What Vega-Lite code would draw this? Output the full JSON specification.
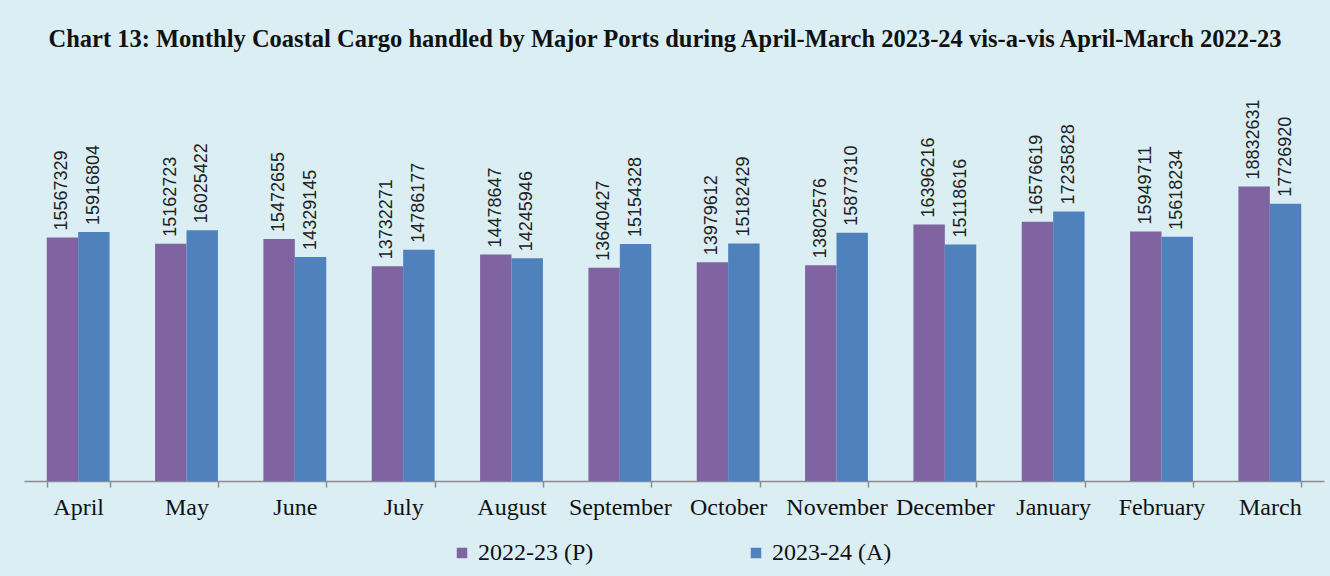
{
  "$schema": "https://vega.github.io/schema/vega-lite/v6.json",
  "width": 1300,
  "height": 391,
  "autosize": {"type": "none"},
  "padding": {"left": 24, "top": 90, "right": 6, "bottom": 95},
  "background": "#DAEEF3",
  "title": {
    "text": "Chart 13: Monthly Coastal Cargo handled by Major Ports during April-March 2023-24  vis-a-vis April-March 2022-23",
    "font": "Liberation Serif",
    "fontSize": 24.5,
    "fontWeight": "bold",
    "color": "#111111",
    "anchor": "middle",
    "frame": "group",
    "offset": 38,
    "dx": -9
  },
  "data": {
    "values": [
      {"month": "April", "series": "2022-23 (P)", "value": 15567329},
      {"month": "April", "series": "2023-24 (A)", "value": 15916804},
      {"month": "May", "series": "2022-23 (P)", "value": 15162723},
      {"month": "May", "series": "2023-24 (A)", "value": 16025422},
      {"month": "June", "series": "2022-23 (P)", "value": 15472655},
      {"month": "June", "series": "2023-24 (A)", "value": 14329145},
      {"month": "July", "series": "2022-23 (P)", "value": 13732271},
      {"month": "July", "series": "2023-24 (A)", "value": 14786177},
      {"month": "August", "series": "2022-23 (P)", "value": 14478647},
      {"month": "August", "series": "2023-24 (A)", "value": 14245946},
      {"month": "September", "series": "2022-23 (P)", "value": 13640427},
      {"month": "September", "series": "2023-24 (A)", "value": 15154328},
      {"month": "October", "series": "2022-23 (P)", "value": 13979612},
      {"month": "October", "series": "2023-24 (A)", "value": 15182429},
      {"month": "November", "series": "2022-23 (P)", "value": 13802576},
      {"month": "November", "series": "2023-24 (A)", "value": 15877310},
      {"month": "December", "series": "2022-23 (P)", "value": 16396216},
      {"month": "December", "series": "2023-24 (A)", "value": 15118616},
      {"month": "January", "series": "2022-23 (P)", "value": 16576619},
      {"month": "January", "series": "2023-24 (A)", "value": 17235828},
      {"month": "February", "series": "2022-23 (P)", "value": 15949711},
      {"month": "February", "series": "2023-24 (A)", "value": 15618234},
      {"month": "March", "series": "2022-23 (P)", "value": 18832631},
      {"month": "March", "series": "2023-24 (A)", "value": 17726920}
    ]
  },
  "encoding": {
    "x": {
      "field": "month",
      "type": "nominal",
      "sort": null,
      "title": null,
      "scale": {"paddingInner": 0.42, "paddingOuter": 0.21},
      "axis": {
        "labelAngle": 0,
        "labelFont": "Liberation Serif",
        "labelFontSize": 24,
        "labelColor": "#111111",
        "labelPadding": 8,
        "domainColor": "#8c8c8c",
        "domainWidth": 1.5,
        "tickColor": "#8c8c8c",
        "tickWidth": 1.5,
        "tickSize": 6,
        "tickBand": "extent",
        "labelOverlap": false,
        "grid": false
      }
    },
    "xOffset": {"field": "series", "type": "nominal", "scale": {"paddingInner": 0, "paddingOuter": 0}},
    "y": {
      "field": "value",
      "type": "quantitative",
      "scale": {"domain": [0, 25000000], "nice": false},
      "axis": null
    }
  },
  "layer": [
    {
      "mark": {"type": "bar"},
      "encoding": {
        "color": {
          "field": "series",
          "type": "nominal",
          "title": null,
          "scale": {"domain": ["2022-23 (P)", "2023-24 (A)"], "range": ["#8064A2", "#4F81BD"]},
          "legend": {
            "orient": "none",
            "direction": "horizontal",
            "columns": 2,
            "columnPadding": 150,
            "legendX": 426,
            "legendY": 451,
            "symbolType": "square",
            "symbolSize": 110,
            "symbolStrokeWidth": 0,
            "labelFont": "Liberation Serif",
            "labelFontSize": 24,
            "labelColor": "#111111",
            "labelOffset": 4,
            "padding": 0
          }
        }
      }
    },
    {
      "mark": {
        "type": "text",
        "angle": 270,
        "align": "left",
        "baseline": "middle",
        "dx": 7,
        "font": "Liberation Sans",
        "fontSize": 18,
        "color": "#222222"
      },
      "encoding": {"text": {"field": "value", "type": "quantitative", "format": "d"}}
    }
  ],
  "config": {"view": {"stroke": null}}
}
